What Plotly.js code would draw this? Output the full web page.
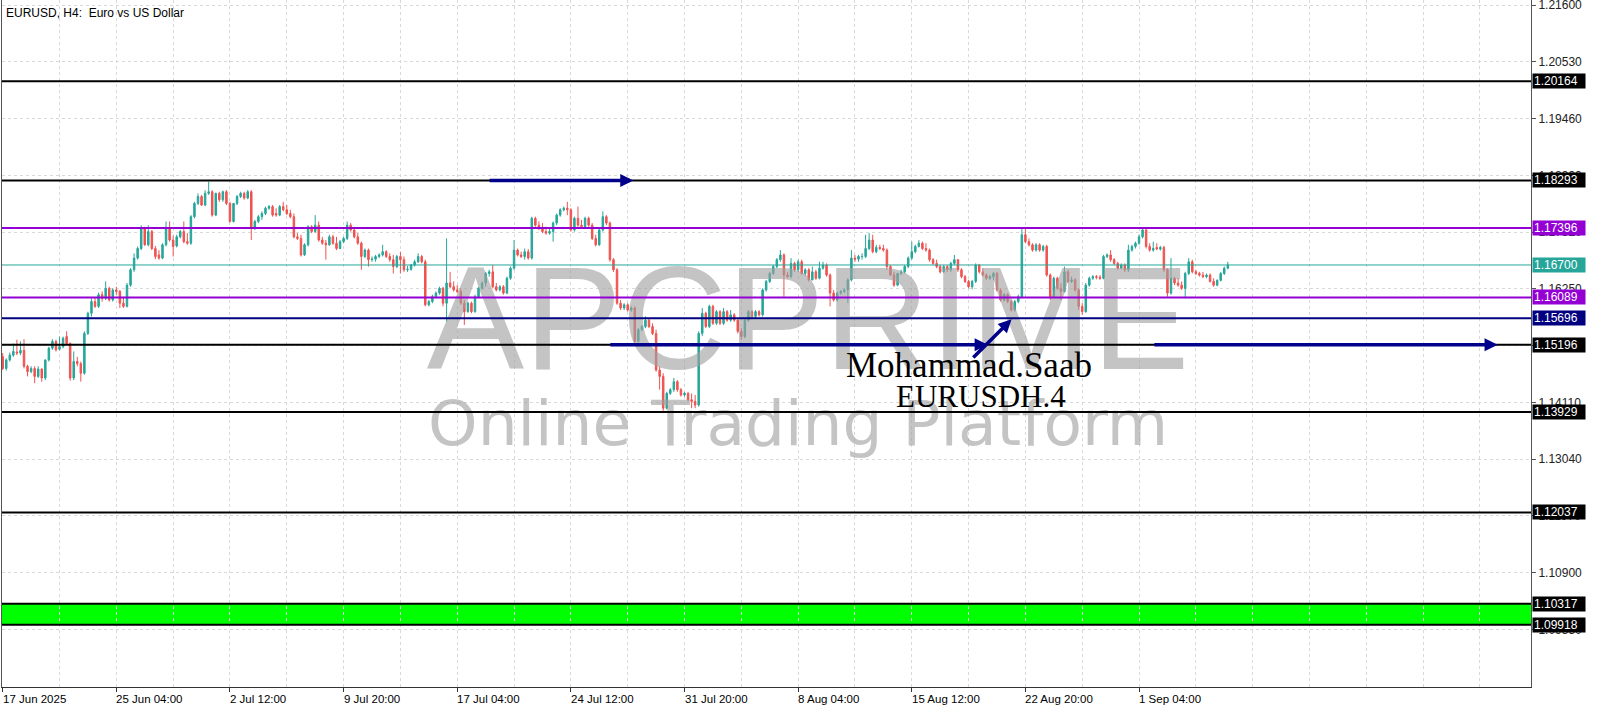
<!DOCTYPE html>
<html>
<head>
<meta charset="utf-8">
<script src="https://cdn.plot.ly/plotly-3.0.1.min.js"></script>
<style>html,body{margin:0;padding:0;background:#fff;}#chart{width:1600px;height:711px;}</style>
</head>
<body>
<div id="chart"></div>
<script>
// ---- Data (EURUSD H4) ----
const open = [
1.1497,1.1475,1.1491,1.1500,1.1506,1.1504,1.1509,1.1479,1.1469,1.1475,
1.1460,1.1474,1.1457,1.1491,1.1513,1.1526,1.1511,1.1516,1.1535,1.1522,
1.1457,1.1488,1.1484,1.1466,1.1541,1.1579,1.1601,1.1592,1.1614,1.1607,
1.1626,1.1604,1.1623,1.1620,1.1598,1.1592,1.1632,1.1661,1.1683,1.1701,
1.1739,1.1708,1.1733,1.1701,1.1689,1.1683,1.1708,1.1739,1.1717,1.1706,
1.1723,1.1733,1.1714,1.1711,1.1761,1.1786,1.1799,1.1783,1.1805,1.1808,
1.1764,1.1805,1.1793,1.1808,1.1786,1.1752,1.1786,1.1799,1.1805,1.1796,
1.1808,1.1739,1.1752,1.1761,1.1767,1.1777,1.1780,1.1767,1.1764,1.1780,
1.1774,1.1767,1.1761,1.1723,1.1720,1.1689,1.1708,1.1742,1.1733,1.1745,
1.1717,1.1711,1.1708,1.1723,1.1711,1.1701,1.1714,1.1720,1.1745,1.1736,
1.1723,1.1711,1.1686,1.1698,1.1680,1.1681,1.1686,1.1689,1.1695,1.1686,
1.1680,1.1667,1.1686,1.1680,1.1661,1.1662,1.1670,1.1676,1.1686,1.1676,
1.1595,1.1601,1.1610,1.1617,1.1626,1.1598,1.1636,1.1629,1.1623,1.1620,
1.1598,1.1582,1.1598,1.1582,1.1610,1.1626,1.1636,1.1654,1.1657,1.1629,
1.1623,1.1629,1.1617,1.1645,1.1664,1.1698,1.1689,1.1686,1.1695,1.1683,
1.1758,1.1745,1.1739,1.1733,1.1730,1.1733,1.1749,1.1764,1.1774,1.1777,
1.1774,1.1736,1.1758,1.1745,1.1742,1.1758,1.1745,1.1720,1.1708,1.1736,
1.1761,1.1749,1.1680,1.1661,1.1598,1.1589,1.1595,1.1585,1.1589,1.1526,
1.1548,1.1554,1.1566,1.1554,1.1541,1.1472,1.1460,1.1400,1.1428,1.1435,
1.1450,1.1435,1.1425,1.1428,1.1416,1.1413,1.1406,1.1541,1.1579,1.1554,
1.1592,1.1560,1.1582,1.1560,1.1582,1.1566,1.1576,1.1566,1.1545,1.1535,
1.1566,1.1582,1.1573,1.1582,1.1576,1.1623,1.1639,1.1654,1.1667,1.1680,
1.1689,1.1651,1.1648,1.1673,1.1661,1.1676,1.1654,1.1661,1.1642,1.1657,
1.1645,1.1664,1.1670,1.1651,1.1617,1.1604,1.1617,1.1620,1.1623,1.1642,
1.1683,1.1681,1.1686,1.1686,1.1701,1.1717,1.1695,1.1703,1.1701,1.1698,
1.1667,1.1651,1.1632,1.1654,1.1657,1.1667,1.1683,1.1695,1.1705,1.1711,
1.1701,1.1698,1.1680,1.1673,1.1667,1.1657,1.1667,1.1661,1.1673,1.1680,
1.1661,1.1648,1.1639,1.1629,1.1639,1.1670,1.1657,1.1651,1.1645,1.1648,
1.1654,1.1623,1.1604,1.1614,1.1601,1.1585,1.1601,1.1610,1.1727,1.1714,
1.1708,1.1698,1.1708,1.1698,1.1705,1.1651,1.1610,1.1645,1.1626,1.1620,
1.1657,1.1639,1.1642,1.1623,1.1592,1.1582,1.1632,1.1645,1.1648,1.1647,
1.1645,1.1686,1.1689,1.1680,1.1673,1.1664,1.1670,1.1661,1.1698,1.1705,
1.1711,1.1723,1.1736,1.1705,1.1698,1.1703,1.1700,1.1703,1.1661,1.1617,
1.1645,1.1636,1.1632,1.1626,1.1654,1.1676,1.1657,1.1654,1.1651,1.1648,
1.1651,1.1639,1.1632,1.1641,1.1654,1.1664];
const high = [
1.1504,1.1494,1.1505,1.1522,1.1529,1.1526,1.1530,1.1482,1.1479,1.1479,
1.1479,1.1475,1.1492,1.1516,1.1530,1.1529,1.1535,1.1535,1.1545,1.1524,
1.1507,1.1497,1.1488,1.1545,1.1582,1.1607,1.1609,1.1618,1.1620,1.1639,
1.1629,1.1626,1.1629,1.1623,1.1610,1.1636,1.1664,1.1692,1.1705,1.1745,
1.1742,1.1745,1.1736,1.1706,1.1698,1.1711,1.1752,1.1752,1.1725,1.1727,
1.1736,1.1752,1.1730,1.1764,1.1789,1.1805,1.1802,1.1811,1.1827,1.1811,
1.1806,1.1808,1.1810,1.1811,1.1789,1.1787,1.1802,1.1808,1.1808,1.1811,
1.1811,1.1755,1.1764,1.1771,1.1780,1.1783,1.1783,1.1777,1.1783,1.1789,
1.1783,1.1774,1.1767,1.1730,1.1727,1.1711,1.1745,1.1745,1.1764,1.1752,
1.1723,1.1717,1.1727,1.1727,1.1723,1.1717,1.1723,1.1752,1.1749,1.1742,
1.1730,1.1714,1.1701,1.1701,1.1686,1.1689,1.1692,1.1708,1.1698,1.1692,
1.1689,1.1689,1.1695,1.1686,1.1668,1.1672,1.1680,1.1692,1.1689,1.1680,
1.1604,1.1614,1.1620,1.1629,1.1629,1.1720,1.1657,1.1639,1.1632,1.1626,
1.1604,1.1601,1.1601,1.1614,1.1629,1.1639,1.1657,1.1661,1.1670,1.1636,
1.1632,1.1632,1.1648,1.1667,1.1717,1.1701,1.1695,1.1701,1.1700,1.1761,
1.1761,1.1752,1.1749,1.1742,1.1739,1.1752,1.1767,1.1777,1.1780,1.1789,
1.1777,1.1761,1.1780,1.1755,1.1761,1.1761,1.1749,1.1727,1.1739,1.1771,
1.1764,1.1752,1.1683,1.1664,1.1604,1.1598,1.1598,1.1592,1.1592,1.1551,
1.1557,1.1573,1.1570,1.1560,1.1548,1.1479,1.1466,1.1431,1.1438,1.1457,
1.1453,1.1438,1.1431,1.1431,1.1428,1.1425,1.1545,1.1589,1.1582,1.1595,
1.1595,1.1585,1.1585,1.1589,1.1585,1.1585,1.1579,1.1570,1.1551,1.1570,
1.1585,1.1585,1.1585,1.1585,1.1626,1.1642,1.1657,1.1670,1.1683,1.1698,
1.1692,1.1657,1.1683,1.1676,1.1680,1.1680,1.1664,1.1664,1.1667,1.1661,
1.1676,1.1676,1.1673,1.1654,1.1623,1.1620,1.1623,1.1626,1.1645,1.1698,
1.1689,1.1689,1.1692,1.1727,1.1730,1.1727,1.1708,1.1708,1.1708,1.1701,
1.1670,1.1657,1.1655,1.1661,1.1670,1.1686,1.1714,1.1708,1.1717,1.1714,
1.1711,1.1701,1.1683,1.1680,1.1670,1.1670,1.1670,1.1676,1.1689,1.1681,
1.1664,1.1651,1.1642,1.1642,1.1673,1.1672,1.1664,1.1654,1.1651,1.1657,
1.1657,1.1626,1.1617,1.1617,1.1604,1.1604,1.1614,1.1739,1.1739,1.1720,
1.1711,1.1711,1.1711,1.1708,1.1708,1.1654,1.1648,1.1648,1.1636,1.1667,
1.1661,1.1648,1.1645,1.1626,1.1598,1.1636,1.1648,1.1651,1.1651,1.1651,
1.1689,1.1692,1.1698,1.1683,1.1676,1.1673,1.1673,1.1708,1.1708,1.1714,
1.1727,1.1739,1.1739,1.1711,1.1714,1.1711,1.1706,1.1706,1.1664,1.1683,
1.1648,1.1645,1.1639,1.1657,1.1683,1.1680,1.1661,1.1657,1.1657,1.1654,
1.1654,1.1645,1.1643,1.1657,1.1667,1.1676];
const low = [
1.1472,1.1471,1.1488,1.1497,1.1500,1.1500,1.1475,1.1460,1.1466,1.1447,
1.1457,1.1450,1.1453,1.1488,1.1510,1.1507,1.1509,1.1513,1.1519,1.1452,
1.1453,1.1479,1.1450,1.1463,1.1538,1.1573,1.1589,1.1589,1.1601,1.1604,
1.1601,1.1601,1.1614,1.1589,1.1589,1.1590,1.1629,1.1657,1.1680,1.1698,
1.1706,1.1705,1.1698,1.1681,1.1680,1.1681,1.1705,1.1714,1.1686,1.1703,
1.1720,1.1711,1.1708,1.1708,1.1758,1.1783,1.1781,1.1781,1.1802,1.1761,
1.1762,1.1789,1.1789,1.1783,1.1750,1.1750,1.1783,1.1796,1.1793,1.1794,
1.1717,1.1736,1.1749,1.1755,1.1764,1.1774,1.1761,1.1761,1.1762,1.1771,
1.1764,1.1758,1.1720,1.1717,1.1686,1.1687,1.1705,1.1730,1.1731,1.1714,
1.1708,1.1680,1.1706,1.1708,1.1698,1.1700,1.1711,1.1717,1.1733,1.1720,
1.1708,1.1661,1.1683,1.1667,1.1676,1.1676,1.1683,1.1686,1.1683,1.1676,
1.1654,1.1664,1.1654,1.1657,1.1657,1.1659,1.1667,1.1674,1.1673,1.1592,
1.1592,1.1598,1.1607,1.1614,1.1592,1.1563,1.1626,1.1620,1.1617,1.1595,
1.1557,1.1580,1.1579,1.1580,1.1607,1.1623,1.1629,1.1648,1.1626,1.1620,
1.1620,1.1614,1.1615,1.1642,1.1661,1.1686,1.1683,1.1680,1.1680,1.1680,
1.1742,1.1736,1.1730,1.1727,1.1727,1.1714,1.1745,1.1761,1.1771,1.1764,
1.1733,1.1733,1.1742,1.1739,1.1739,1.1742,1.1717,1.1705,1.1706,1.1733,
1.1745,1.1676,1.1657,1.1595,1.1585,1.1585,1.1582,1.1582,1.1522,1.1524,
1.1545,1.1551,1.1551,1.1538,1.1469,1.1435,1.1394,1.1398,1.1425,1.1431,
1.1431,1.1422,1.1422,1.1413,1.1400,1.1400,1.1403,1.1536,1.1551,1.1551,
1.1557,1.1557,1.1557,1.1557,1.1563,1.1563,1.1563,1.1541,1.1529,1.1532,
1.1563,1.1570,1.1570,1.1573,1.1573,1.1620,1.1636,1.1651,1.1664,1.1676,
1.1610,1.1645,1.1645,1.1657,1.1657,1.1651,1.1649,1.1639,1.1641,1.1642,
1.1643,1.1661,1.1648,1.1592,1.1601,1.1601,1.1614,1.1617,1.1598,1.1639,
1.1676,1.1676,1.1680,1.1683,1.1698,1.1692,1.1692,1.1698,1.1695,1.1661,
1.1649,1.1629,1.1630,1.1651,1.1654,1.1664,1.1680,1.1692,1.1703,1.1698,
1.1695,1.1676,1.1670,1.1664,1.1654,1.1655,1.1657,1.1657,1.1670,1.1657,
1.1645,1.1636,1.1626,1.1624,1.1636,1.1654,1.1648,1.1642,1.1642,1.1641,
1.1620,1.1601,1.1601,1.1598,1.1582,1.1582,1.1598,1.1607,1.1711,1.1705,
1.1695,1.1695,1.1695,1.1695,1.1648,1.1604,1.1609,1.1623,1.1604,1.1618,
1.1636,1.1636,1.1620,1.1585,1.1576,1.1580,1.1629,1.1642,1.1643,1.1642,
1.1643,1.1683,1.1676,1.1670,1.1661,1.1662,1.1657,1.1657,1.1695,1.1701,
1.1708,1.1720,1.1701,1.1695,1.1695,1.1698,1.1697,1.1657,1.1610,1.1614,
1.1632,1.1629,1.1623,1.1607,1.1651,1.1654,1.1651,1.1648,1.1645,1.1645,
1.1637,1.1629,1.1630,1.1639,1.1651,1.1662];
const close = [
1.1475,1.1491,1.1500,1.1507,1.1504,1.1509,1.1479,1.1469,1.1475,1.1460,
1.1474,1.1457,1.1491,1.1513,1.1526,1.1510,1.1516,1.1532,1.1522,1.1457,
1.1488,1.1484,1.1466,1.1541,1.1579,1.1601,1.1592,1.1614,1.1607,1.1626,
1.1604,1.1623,1.1620,1.1598,1.1592,1.1632,1.1661,1.1683,1.1701,1.1739,
1.1708,1.1733,1.1701,1.1686,1.1683,1.1708,1.1739,1.1717,1.1705,1.1723,
1.1733,1.1714,1.1711,1.1761,1.1786,1.1799,1.1783,1.1805,1.1808,1.1764,
1.1805,1.1793,1.1808,1.1786,1.1752,1.1786,1.1799,1.1805,1.1796,1.1808,
1.1739,1.1752,1.1761,1.1767,1.1777,1.1780,1.1764,1.1764,1.1780,1.1774,
1.1767,1.1761,1.1723,1.1720,1.1689,1.1708,1.1742,1.1733,1.1745,1.1717,
1.1711,1.1708,1.1723,1.1711,1.1701,1.1714,1.1720,1.1745,1.1736,1.1723,
1.1711,1.1686,1.1698,1.1680,1.1681,1.1686,1.1689,1.1695,1.1686,1.1680,
1.1667,1.1686,1.1680,1.1661,1.1662,1.1670,1.1676,1.1686,1.1676,1.1595,
1.1601,1.1610,1.1617,1.1626,1.1598,1.1636,1.1629,1.1623,1.1620,1.1598,
1.1582,1.1598,1.1582,1.1610,1.1626,1.1636,1.1654,1.1657,1.1629,1.1623,
1.1629,1.1617,1.1645,1.1664,1.1698,1.1689,1.1686,1.1695,1.1683,1.1758,
1.1745,1.1739,1.1733,1.1730,1.1733,1.1749,1.1764,1.1774,1.1777,1.1774,
1.1736,1.1758,1.1745,1.1742,1.1758,1.1745,1.1720,1.1708,1.1736,1.1761,
1.1749,1.1680,1.1661,1.1598,1.1589,1.1595,1.1585,1.1589,1.1526,1.1548,
1.1554,1.1566,1.1554,1.1541,1.1472,1.1460,1.1400,1.1428,1.1435,1.1450,
1.1435,1.1425,1.1428,1.1416,1.1413,1.1406,1.1541,1.1579,1.1554,1.1592,
1.1560,1.1582,1.1560,1.1582,1.1566,1.1576,1.1566,1.1545,1.1535,1.1566,
1.1582,1.1573,1.1582,1.1576,1.1623,1.1639,1.1654,1.1667,1.1680,1.1689,
1.1651,1.1648,1.1673,1.1661,1.1676,1.1654,1.1661,1.1642,1.1657,1.1645,
1.1664,1.1670,1.1651,1.1617,1.1604,1.1617,1.1620,1.1623,1.1642,1.1683,
1.1681,1.1686,1.1686,1.1701,1.1717,1.1695,1.1703,1.1701,1.1698,1.1667,
1.1651,1.1632,1.1654,1.1657,1.1667,1.1683,1.1695,1.1705,1.1711,1.1701,
1.1698,1.1680,1.1673,1.1667,1.1657,1.1667,1.1661,1.1673,1.1680,1.1661,
1.1648,1.1639,1.1629,1.1639,1.1670,1.1657,1.1651,1.1645,1.1648,1.1654,
1.1623,1.1604,1.1614,1.1601,1.1585,1.1601,1.1610,1.1727,1.1714,1.1708,
1.1698,1.1708,1.1698,1.1705,1.1651,1.1610,1.1645,1.1626,1.1620,1.1657,
1.1639,1.1642,1.1623,1.1592,1.1582,1.1632,1.1645,1.1648,1.1647,1.1645,
1.1686,1.1689,1.1680,1.1673,1.1664,1.1670,1.1661,1.1698,1.1705,1.1711,
1.1723,1.1736,1.1705,1.1698,1.1701,1.1700,1.1703,1.1661,1.1617,1.1645,
1.1636,1.1632,1.1626,1.1654,1.1676,1.1657,1.1654,1.1651,1.1648,1.1651,
1.1639,1.1632,1.1641,1.1654,1.1664,1.1670];

// Time axis: bar positions of the labels and their texts
const tickBars = [0,32,64,96,128,160,192,224,256,288,320];
const tickLabels = ["17 Jun 2025","25 Jun 04:00","2 Jul 12:00","9 Jul 20:00","17 Jul 04:00","24 Jul 12:00","31 Jul 20:00","8 Aug 04:00","15 Aug 12:00","22 Aug 20:00","1 Sep 04:00"];

// Price scale ticks
const priceTicks = [1.21600,1.20530,1.19460,1.18390,1.17320,1.16250,1.15180,1.14110,1.13040,1.11970,1.10900,1.09830];

// Horizontal levels drawn on the chart
const levelPrices = [1.20164,1.18293,1.17396,1.16700,1.16089,1.15696,1.15196,1.13929,1.12037,1.10317,1.09918];
const levelKinds  = ["black","black","purple","teal","purple","navy","black","black","black","black","black"];
const bandPrices = [1.09918,1.10317];

// Arrows drawn on the chart: [tailBar, tailPrice, tipBar, tipPrice]
const arrowLines = [
  [136.7,1.18293,177.6,1.18293],
  [170.7,1.15196,277.4,1.15196],
  [272.9,1.14927,284.1,1.15676],
  [323.9,1.15196,421.0,1.15196]
];

// ---- Styling ----
const COLORS = {black:'#000000', purple:'#9400D3', teal:'#26A69A', navy:'#000080'};
const WIDTHS = {black:2, purple:2, teal:1, navy:2};
const BULL = '#26A69A', BEAR = '#EF5350';
const GRID = '#d9d9d9';
const FONT = 'Liberation Sans, Arial, sans-serif';
const WATERMARK = 'rgba(160,160,160,0.62)';

const bars = open.map((_, i) => i);

const traces = [
  {type:'scatter', mode:'text', x:[226.8], y:[1.15430], text:['APCPRIME'],
   textfont:{family:FONT, size:146, color:WATERMARK},
   hoverinfo:'skip', showlegend:false},
  {type:'scatter', mode:'text', x:[224.0], y:[1.13600], text:['Online Trading Platform'],
   textfont:{family:'DejaVu Sans, sans-serif', size:63, color:WATERMARK},
   hoverinfo:'skip', showlegend:false},
  {type:'candlestick', x:bars, open:open, high:high, low:low, close:close,
   increasing:{line:{color:BULL,width:1}, fillcolor:BULL},
   decreasing:{line:{color:BEAR,width:1}, fillcolor:BEAR},
   whiskerwidth:0, hoverinfo:'skip', showlegend:false}
];

const shapes = [
  {type:'rect', xref:'paper', x0:0, x1:1, yref:'y', y0:bandPrices[0], y1:bandPrices[1],
   fillcolor:'#00FF00', line:{width:0}, layer:'below'}
];
levelPrices.forEach((p, i) => {
  const k = levelKinds[i];
  shapes.push({type:'line', xref:'paper', x0:0, x1:1, yref:'y', y0:p, y1:p,
    line:{color:COLORS[k], width:WIDTHS[k]}, layer:'above'});
});

const annotations = [
  {xref:'paper', yref:'paper', x:0, y:1, xanchor:'left', yanchor:'top', xshift:2, yshift:-4,
   text:'EURUSD, H4:  Euro vs US Dollar', showarrow:false,
   font:{family:FONT, size:12, color:'#000'}}
];
tickBars.forEach((b, i) => {
  annotations.push({xref:'x', yref:'paper', x:b, y:0, xanchor:'left', yanchor:'top',
    xshift:-2, yshift:-4, text:tickLabels[i], showarrow:false,
    font:{family:FONT, size:11.5, color:'#000'}});
});
levelPrices.forEach((p, i) => {
  const k = levelKinds[i];
  annotations.push({xref:'paper', yref:'y', x:1, y:p, xanchor:'left', yanchor:'middle',
    xshift:1, text:p.toFixed(5), showarrow:false, bgcolor:COLORS[k], borderpad:1,
    width:50, height:12, align:'left',
    font:{family:FONT, size:12, color:'#ffffff'}});
});
arrowLines.forEach(a => {
  annotations.push({xref:'x', yref:'y', axref:'x', ayref:'y', ax:a[0], ay:a[1], x:a[2], y:a[3],
    text:'', showarrow:true, arrowhead:2, arrowsize:0.75, arrowwidth:3.5,
    arrowcolor:'#00008B', standoff:0, startstandoff:0});
});
annotations.push({xref:'x', yref:'y', x:272.1, y:1.14800, text:'Mohammad.Saab', showarrow:false,
  font:{family:'Liberation Serif, Times New Roman, serif', size:35, color:'#000'}});
annotations.push({xref:'x', yref:'y', x:275.5, y:1.14225, text:'EURUSDH.4', showarrow:false,
  font:{family:'Liberation Serif, Times New Roman, serif', size:31, color:'#000'}});

const layout = {
  width:1600, height:711,
  margin:{l:2, r:69, t:0, b:24, pad:0},
  paper_bgcolor:'#ffffff', plot_bgcolor:'#ffffff',
  showlegend:false, hovermode:false, dragmode:false,
  boxgap:0.4,
  xaxis:{range:[-0.197,430.38], tickmode:'array', tickvals:tickBars, showticklabels:false,
    ticks:'outside', ticklen:4, tickcolor:'#333', tickwidth:1,
    showgrid:true, gridcolor:GRID, griddash:'dot', gridwidth:1,
    minor:{tickmode:'linear', tick0:0, dtick:16, showgrid:true, gridcolor:GRID, griddash:'dot', gridwidth:1, ticks:''},
    showline:true, linecolor:'#333', linewidth:1, zeroline:false,
    rangeslider:{visible:false}, fixedrange:true},
  yaxis:{side:'right', range:[1.087458,1.216942], tickmode:'array', tickvals:priceTicks,
    tickformat:'.5f', ticks:'outside', ticklen:4, tickcolor:'#555', ticklabeloverflow:'allow',
    showgrid:true, gridcolor:GRID, griddash:'dot', gridwidth:1,
    showline:true, mirror:true, linecolor:'#555', linewidth:1, zeroline:false,
    tickfont:{family:FONT, size:12, color:'#222'}, fixedrange:true},
  shapes:shapes,
  annotations:annotations
};

Plotly.newPlot('chart', traces, layout, {displayModeBar:false, staticPlot:true});
</script>
</body>
</html>
